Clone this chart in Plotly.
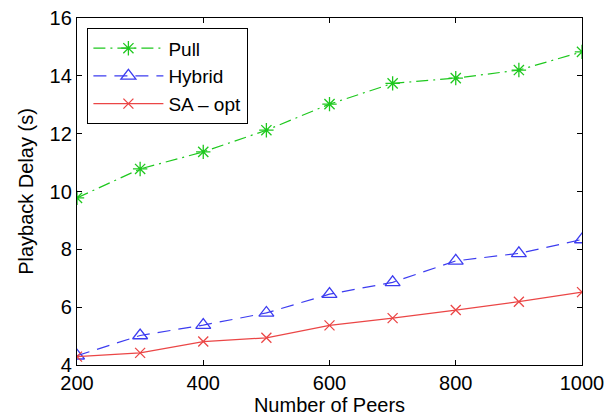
import plotly.graph_objects as go

peers = [200, 300, 400, 500, 600, 700, 800, 900, 1000]
pull = [9.78, 10.78, 11.37, 12.12, 13.02, 13.74, 13.92, 14.2, 14.83]
hybrid = [4.32, 5.02, 5.38, 5.8, 6.45, 6.86, 7.6, 7.86, 8.34]
sa_opt = [4.29, 4.42, 4.81, 4.94, 5.37, 5.62, 5.9, 6.19, 6.52]

x_ticks = [200, 400, 600, 800, 1000]
y_ticks = [4, 6, 8, 10, 12, 14, 16]

FONT = "Liberation Sans, Arial, Helvetica, sans-serif"
GREEN = "rgb(30,200,30)"
BLUE = "rgb(60,60,240)"
RED = "rgb(235,70,70)"

fig = go.Figure()
fig.add_trace(go.Scatter(
    x=peers, y=pull, name="Pull", mode="lines+markers",
    line=dict(color=GREEN, width=1.2, dash="12px,5px,2px,5px"),
    marker=dict(symbol="asterisk-open", size=12, line=dict(color=GREEN, width=1.3)),
))
fig.add_trace(go.Scatter(
    x=peers, y=hybrid, name="Hybrid", mode="lines+markers",
    line=dict(color=BLUE, width=1.2, dash="13px,8px"),
    marker=dict(symbol="triangle-up-open", size=13, line=dict(color=BLUE, width=1.3)),
))
fig.add_trace(go.Scatter(
    x=peers, y=sa_opt, name="SA \u2013 opt", mode="lines+markers",
    line=dict(color=RED, width=1.2),
    marker=dict(symbol="x-thin-open", size=10, line=dict(color=RED, width=1.3)),
))

axis_common = dict(
    showgrid=False, zeroline=False, showline=True, linecolor="black", linewidth=1.3,
    mirror="ticks", ticks="inside", ticklen=5, tickwidth=1, tickcolor="black",
    tickfont=dict(family=FONT, size=20, color="black"),
    ticklabeloverflow="allow", automargin=False,
)
fig.update_xaxes(range=[200, 1000], tickvals=x_ticks,
                 title=dict(text="Number of Peers", font=dict(family=FONT, size=20, color="black"), standoff=0),
                 **axis_common)
fig.update_yaxes(range=[4, 16], tickvals=y_ticks,
                 title=dict(text="Playback Delay (s)", font=dict(family=FONT, size=20, color="black"), standoff=10),
                 **axis_common)

fig.update_layout(
    width=605, height=410,
    margin=dict(l=69, r=31, t=10, b=53, autoexpand=False),
    paper_bgcolor="white", plot_bgcolor="white",
    font=dict(family=FONT, size=20, color="black"),
    showlegend=True,
    legend=dict(x=0.02, y=0.971, xanchor="left", yanchor="top",
                bgcolor="white", bordercolor="black", borderwidth=1.3,
                font=dict(family=FONT, size=19, color="black"),
                itemwidth=70, tracegroupgap=0),
)

fig.write_html("out.html")
